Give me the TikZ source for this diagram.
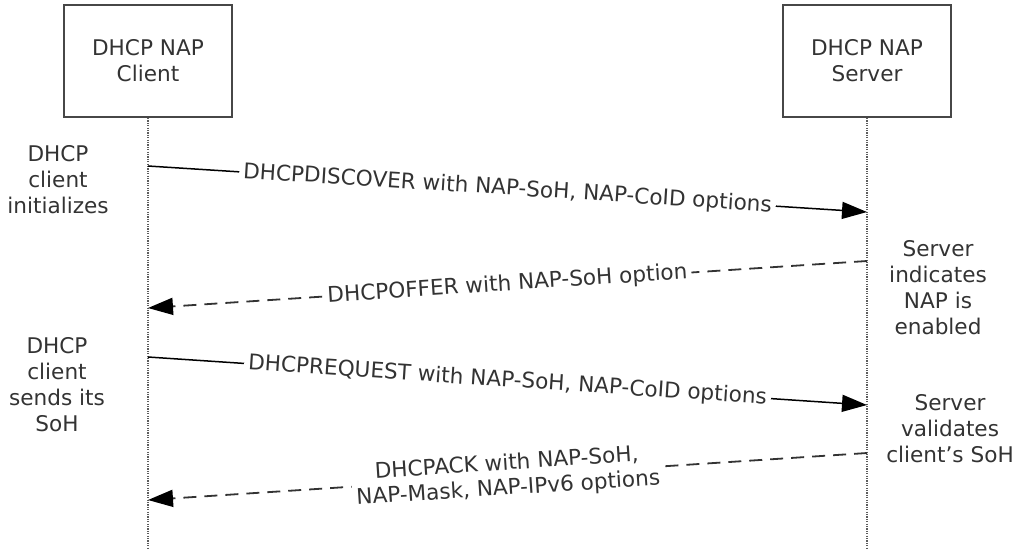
\documentclass[tikz,border=0pt]{standalone}
\usepackage{fontspec}
\setmainfont{DejaVu Sans}
\usetikzlibrary{arrows.meta}
\definecolor{ink}{HTML}{333333}
\begin{document}
\begin{tikzpicture}[x=0.5pt,y=-0.5pt,
  font=\fontsize{10.8}{13}\selectfont, text=ink,
  actor/.style={draw=ink!90, line width=1pt, minimum width=84pt, minimum height=56pt, align=center, inner sep=0pt},
  lifeline/.style={draw=ink!80, line width=0.8pt, dash pattern=on 0.6pt off 0.6pt},
  msg/.style={draw=black, line width=0.75pt, -{Triangle[length=12.5pt,width=8.5pt,color=black]}},
  rmsg/.style={msg, draw=ink, line width=0.9pt, dash pattern=on 6.5pt off 4pt},
  lbl/.style={fill=white, inner sep=2pt, sloped, align=center},
  note/.style={align=center, inner sep=0pt}]
\useasboundingbox (0,0) rectangle (1017,548);
\node[actor] (c) at (148,61) {DHCP NAP\\Client};
\node[actor] (s) at (867,61) {DHCP NAP\\Server};
\coordinate (cend) at (148,548);
\coordinate (send) at (867,548);
\draw[lifeline] (c.south) -- (cend);
\draw[lifeline] (s.south) -- (send);
\coordinate (c1) at (148,166); \coordinate (s1) at (867,212);
\coordinate (s2) at (867,261); \coordinate (c2) at (148,308);
\coordinate (c3) at (148,357); \coordinate (s3) at (867,405);
\coordinate (s4) at (867,453); \coordinate (c4) at (148,500);
\draw[msg] (c1) -- node[lbl] {DHCPDISCOVER with NAP-SoH, NAP-CoID options} (s1);
\draw[rmsg] (s2) -- node[lbl] {DHCPOFFER with NAP-SoH option} (c2);
\draw[msg] (c3) -- node[lbl] {DHCPREQUEST with NAP-SoH, NAP-CoID options} (s3);
\draw[rmsg] (s4) -- node[lbl, font=\fontsize{10.8}{12.5}\selectfont] {DHCPACK with NAP-SoH,\\NAP-Mask, NAP-IPv6 options} (c4);
\node[note] (n1) at (58,180) {DHCP\\client\\initializes};
\node[note] (n2) at (57,385) {DHCP\\client\\sends its\\SoH};
\node[note] (n3) at (938,288) {Server\\indicates\\NAP is\\enabled};
\node[note] (n4) at (950,429) {Server\\validates\\client's SoH};
\end{tikzpicture}
\end{document}
